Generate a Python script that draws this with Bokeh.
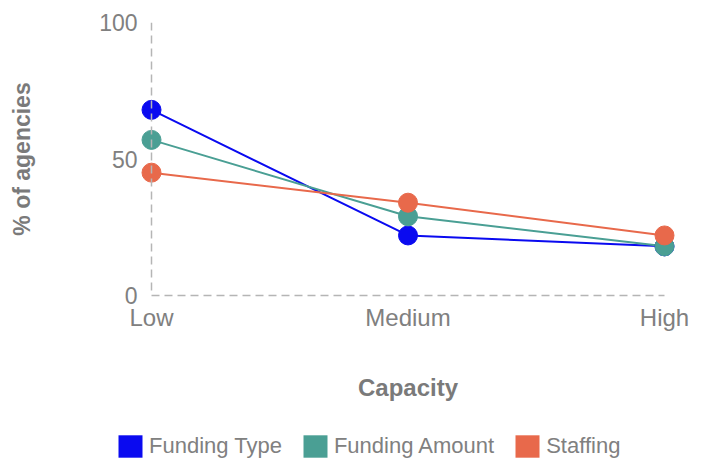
from bokeh.plotting import figure
from bokeh.layouts import column, row
from bokeh.models import (Range1d, FixedTicker, Span, Legend, LegendItem)
from bokeh.embed import file_html
from bokeh.resources import INLINE

# ---- data ----
categories = ["Low", "Medium", "High"]
series_names = ["Funding Type", "Funding Amount", "Staffing"]
funding_type = [68, 22, 18]
funding_amount = [57, 29, 18]
staffing = [45, 34, 22]
y_ticks = [0, 50, 100]

colors = ["#0a0af0", "#4a9f94", "#e8694b"]
series = [funding_type, funding_amount, staffing]

x = list(range(len(categories)))

FRAME_W = 537
PAD_PX = 12
pad = (len(categories) - 1) * PAD_PX / (FRAME_W - 2 * PAD_PX)

p = figure(
    frame_width=FRAME_W, frame_height=273,
    min_border_left=139, min_border_right=32,
    min_border_top=22, min_border_bottom=110,
    x_range=Range1d(-pad, len(categories) - 1 + pad),
    y_range=Range1d(0, 100),
    output_backend="svg", toolbar_location=None,
    background_fill_color="white", border_fill_color="white",
)
p.outline_line_color = None
p.xgrid.visible = False
p.ygrid.visible = False

font = "Liberation Sans"
tick_color = "#808080"
title_color = "#7a7a7a"

# x axis
xa = p.xaxis[0]
xa.ticker = FixedTicker(ticks=x)
xa.major_label_overrides = {i: c for i, c in enumerate(categories)}
xa.bounds = (0, len(categories) - 1)
xa.axis_line_color = "#b5b5b5"
xa.axis_line_dash = "8 5"
xa.axis_line_width = 1.5
xa.major_tick_line_color = None
xa.minor_tick_line_color = None
xa.major_tick_out = 0
xa.minor_tick_out = 0
xa.major_label_standoff = 8
xa.major_label_text_font = font
xa.major_label_text_font_size = "24px"
xa.major_label_text_color = tick_color
xa.axis_label = "Capacity"
xa.axis_label_text_font = font
xa.axis_label_text_font_size = "24px"
xa.axis_label_text_font_style = "bold"
xa.axis_label_text_color = title_color
xa.axis_label_standoff = 40

# y axis
ya = p.yaxis[0]
ya.ticker = FixedTicker(ticks=y_ticks)
ya.axis_line_color = None
ya.major_tick_line_color = None
ya.minor_tick_line_color = None
ya.major_tick_out = 0
ya.minor_tick_out = 0
ya.major_label_standoff = 2
ya.major_label_text_font = font
ya.major_label_text_font_size = "23px"
ya.major_label_text_color = tick_color
ya.axis_label = "% of agencies"
ya.axis_label_text_font = font
ya.axis_label_text_font_size = "23px"
ya.axis_label_text_font_style = "bold"
ya.axis_label_text_color = title_color
ya.axis_label_standoff = 61

# dashed vertical line at the first category
p.add_layout(Span(location=0, dimension="height", line_color="#b5b5b5",
                  line_dash="8 5", line_width=1.5))

# lines
for vals, c in zip(series, colors):
    p.line(x, vals, line_color=c, line_width=2)
# markers
for vals, c in zip(series, colors):
    p.scatter(x, vals, size=19, fill_color=c, line_color=c)

# ---- legend strip below the chart ----
leg_fig = figure(width=708, height=56, min_border=0, min_border_left=0,
                 min_border_right=0, title=None,
                 x_range=Range1d(0, 1), y_range=Range1d(0, 1),
                 x_axis_location=None, y_axis_location=None,
                 output_backend="svg", toolbar_location=None,
                 background_fill_color="white", border_fill_color="white")
leg_fig.outline_line_color = None
leg_fig.grid.visible = False

items = []
for name, c in zip(series_names, colors):
    # zero-size swatch carrier (draws nothing in the plot area)
    r = leg_fig.quad(left=[0], right=[0], top=[0], bottom=[0],
                     fill_color=c, line_color=None)
    items.append(LegendItem(label=name, renderers=[r]))

legend = Legend(items=items, orientation="horizontal", location=(115, 1),
                glyph_width=30, glyph_height=28, label_standoff=4, spacing=18,
                padding=0, margin=0, border_line_color=None,
                background_fill_alpha=0,
                label_text_font=font, label_text_font_size="22px",
                label_text_color=tick_color)
leg_fig.add_layout(legend, "center")

layout = column(row(p), row(leg_fig), spacing=0)
open("out.html", "w").write(file_html(layout, INLINE))
